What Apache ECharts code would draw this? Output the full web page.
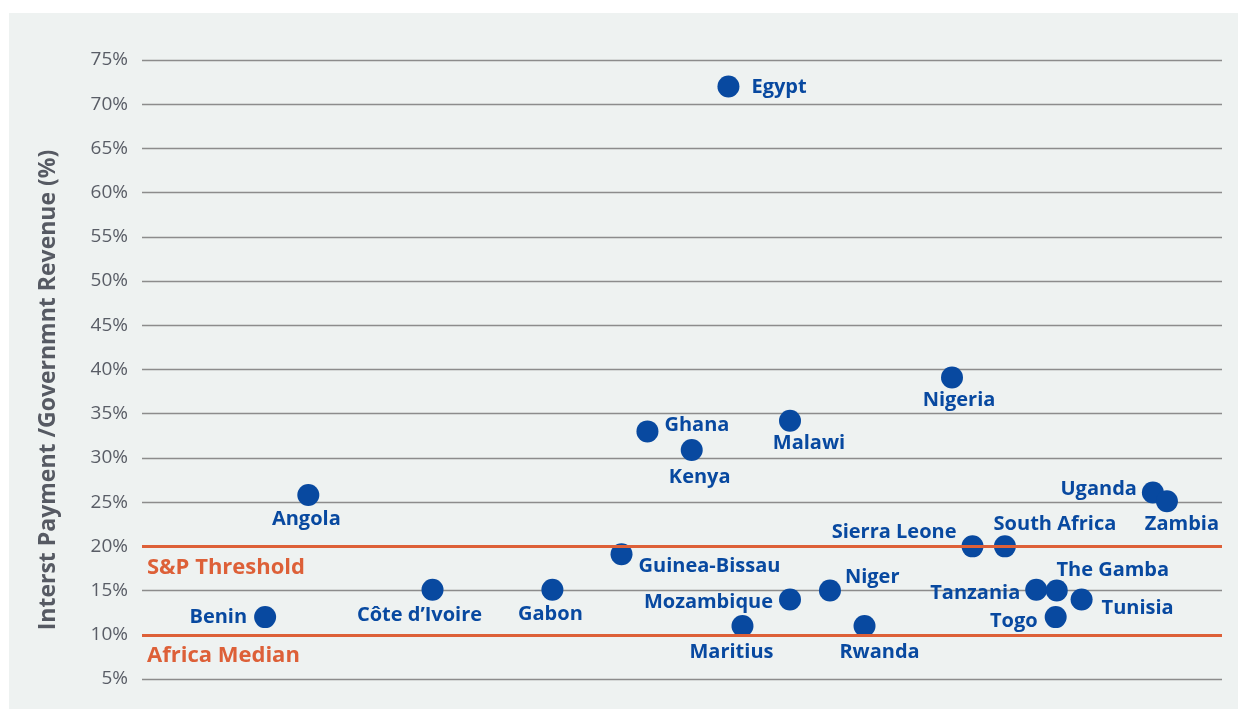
<!DOCTYPE html>
<html>
<head>
<meta charset="utf-8">
<script src="https://cdn.jsdelivr.net/npm/echarts@6/dist/echarts.min.js"></script>
<style>
html,body{margin:0;padding:0;background:#ffffff;}
#chart{width:1238px;height:709px;}
</style>
</head>
<body>
<div id="chart"></div>
<script>
// Data
const countries = ['Benin','Angola',"Côte d’Ivoire",'Gabon','Guinea-Bissau','Ghana','Kenya','Egypt','Maritius','Malawi','Mozambique','Niger','Rwanda','Nigeria','Sierra Leone','South Africa','Tanzania','The Gamba','Togo','Tunisia','Uganda','Zambia'];
const xPosition = [11.4,15.4,26.9,38.0,44.4,46.8,50.9,54.3,55.6,60.0,60.0,63.7,66.9,75.0,76.9,79.9,82.8,84.7,84.6,87.0,93.6,94.9];
const interestToRevenue = [12.0,25.8,15.1,15.1,19.1,33.0,30.9,72.0,11.0,34.2,14.0,15.0,11.0,39.1,20.0,20.0,15.1,15.0,12.0,14.0,26.1,25.1];
const thresholds = [{name:'S&P Threshold', value:20},{name:'Africa Median', value:10}];
const yTicks = [5,10,15,20,25,30,35,40,45,50,55,60,65,70,75];

// Label placement (style)
const labelPlacement = {
  'Benin':{position:'left',distance:7,offset:[0,0]},
  'Angola':{position:'bottom',distance:3,offset:[-2,0]},
  "Côte d’Ivoire":{position:'bottom',distance:5,offset:[-13,0]},
  'Gabon':{position:'bottom',distance:4,offset:[-2,0]},
  'Guinea-Bissau':{position:'right',distance:6,offset:[0,12]},
  'Ghana':{position:'right',distance:6,offset:[0,-6]},
  'Kenya':{position:'bottom',distance:6,offset:[8,0]},
  'Egypt':{position:'right',distance:12,offset:[0,1]},
  'Maritius':{position:'bottom',distance:5,offset:[-11,0]},
  'Malawi':{position:'bottom',distance:2,offset:[19,0]},
  'Mozambique':{position:'left',distance:6,offset:[0,3]},
  'Niger':{position:'right',distance:4,offset:[0,-13]},
  'Rwanda':{position:'bottom',distance:5,offset:[15,0]},
  'Nigeria':{position:'bottom',distance:2,offset:[7,0]},
  'Sierra Leone':{position:'left',distance:5,offset:[0,-14]},
  'South Africa':{position:'top',distance:1,offset:[50,0]},
  'Tanzania':{position:'left',distance:5,offset:[0,4]},
  'The Gamba':{position:'top',distance:-1,offset:[56,0]},
  'Togo':{position:'left',distance:7,offset:[0,4]},
  'Tunisia':{position:'right',distance:9,offset:[0,9]},
  'Uganda':{position:'left',distance:5,offset:[0,-3]},
  'Zambia':{position:'bottom',distance:2,offset:[15,0]}
};

const BLUE = '#0849a0';
const ORANGE = '#dd6038';
const points = countries.map((c,i)=>({
  name:c,
  value:[xPosition[i], interestToRevenue[i]],
  label:labelPlacement[c]
}));

const chart = echarts.init(document.getElementById('chart'));
chart.setOption({
  backgroundColor:'#ffffff',
  animation:false,
  graphic:[
    {type:'rect',z:-10,silent:true,shape:{x:9,y:13,width:1229,height:696},style:{fill:'#eef2f1'}},
    {type:'text',z:10,silent:true,x:48,y:390,rotation:Math.PI/2,
     style:{text:'Interst Payment /Governmnt Revenue (%)',fill:'#565a63',font:'bold 23px "Open Sans"',align:'center',verticalAlign:'middle'}}
  ],
  grid:{left:142,right:16,top:60,bottom:30,containLabel:false},
  xAxis:{type:'value',min:0,max:100,show:false,splitLine:{show:false}},
  yAxis:{
    type:'value',min:5,max:75,interval:5,
    axisLine:{show:false},axisTick:{show:false},
    axisLabel:{formatter:v=>v+'%',color:'#595d66',fontSize:19,fontFamily:'Open Sans',margin:14,padding:[6,0,0,0]},
    splitLine:{lineStyle:{color:'#8c8c8c',width:1.3}}
  },
  series:[{
    type:'scatter',
    symbolSize:22,
    itemStyle:{color:BLUE,opacity:1},
    label:{show:true,formatter:'{b}',color:BLUE,fontSize:20,fontWeight:'bold',fontFamily:'Open Sans'},
    data:points,
    markLine:{
      silent:true,symbol:'none',
      lineStyle:{color:ORANGE,width:3,type:'solid'},
      label:{show:true,position:'insideStartBottom',formatter:'{b}',color:ORANGE,fontSize:22,fontWeight:'bold',fontFamily:'Open Sans',distance:[5,10]},
      data:thresholds.map(t=>({name:t.name,yAxis:t.value}))
    }
  }]
});
</script>
</body>
</html>
